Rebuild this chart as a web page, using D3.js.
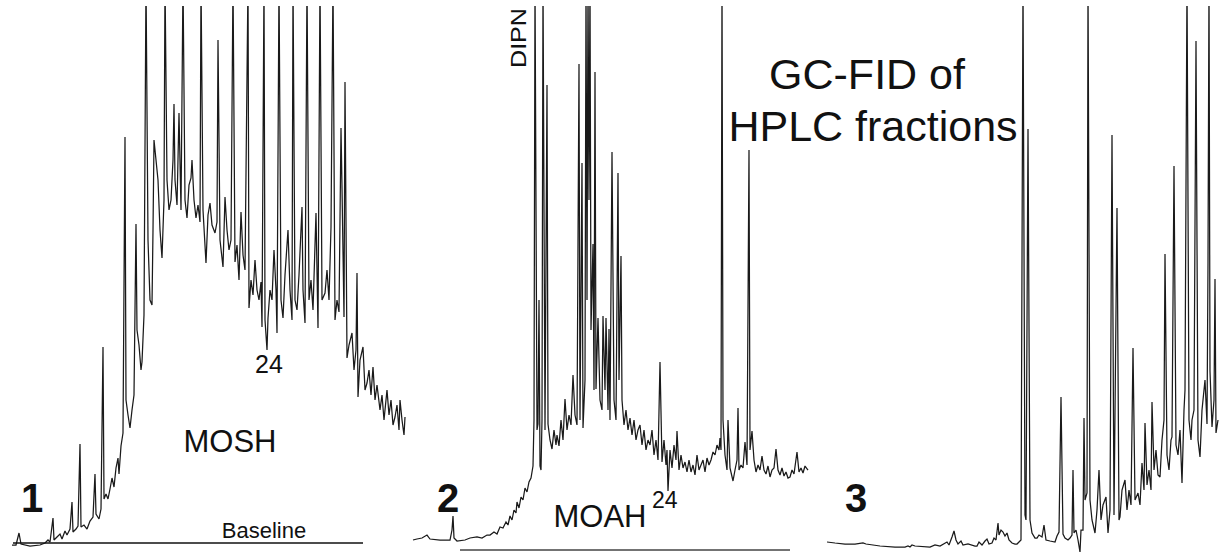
<!DOCTYPE html>
<html>
<head>
<meta charset="utf-8">
<script src="https://cdn.jsdelivr.net/npm/d3@7"></script>
<style>
  body { margin: 0; background: #fff; }
  svg { display: block; font-family: "Liberation Sans", Arial, sans-serif; }
</style>
</head>
<body>
<div id="chart"></div>
<script>
// Traces: [scan index, detector response]
const traceMOSH = [
  [12,0],[16,0],[19,12],[21,1],[30,-1],[40,0],[45,2],[48,5],[50,3],[53,27],[54,5],[57,8],[60,11],[62,6],
  [65,14],[67,10],[70,16],[72,43],[73,13],[76,16],[78,19],[80,101],[81,18],[84,20],[87,16],[90,24],[93,28],
  [95,71],[96,31],[99,26],[101,36],[103,198],[104,46],[106,51],[108,46],[110,56],[112,67],[114,58],[116,77],
  [118,87],[119,71],[121,99],[123,112],[125,408],[126,145],[128,130],[130,117],[132,135],[134,150],[136,321],
  [137,215],[139,200],[141,175],[142,183],[144,230],[146,565],[148,305],[150,245],[152,240],[153,315],[154,405],
  [156,385],[158,365],[160,315],[162,287],[164,345],[165,565],[167,365],[169,335],[171,345],[173,385],[174,441],
  [175,365],[177,340],[179,432],[181,335],[183,565],[185,345],[187,327],[189,360],[191,367],[192,385],[194,345],
  [196,327],[198,340],[200,323],[201,565],[203,335],[206,282],[208,330],[210,342],[212,320],[215,312],[217,323],
  [218,505],[220,305],[223,278],[225,348],[227,315],[229,295],[231,305],[233,565],[235,283],[237,300],[239,265],
  [241,333],[243,290],[245,275],[248,565],[249,237],[251,265],[253,250],[255,285],[257,255],[259,245],[261,263],
  [262,218],[264,565],[265,225],[267,195],[268,227],[270,255],[272,245],[274,295],[276,255],[277,212],[279,565],
  [281,245],[283,227],[285,270],[288,315],[290,255],[292,225],[293,565],[295,245],[297,235],[299,270],[302,338],
  [303,255],[305,222],[307,565],[309,245],[311,265],[313,235],[316,332],[318,217],[320,565],[322,245],[325,252],
  [327,275],[329,245],[331,318],[333,565],[335,225],[337,245],[339,233],[341,417],[342,358],[344,228],[345,463],
  [347,187],[349,200],[352,212],[354,175],[356,195],[357,272],[358,148],[360,185],[363,198],[365,155],[367,162],
  [369,175],[371,150],[373,178],[375,145],[377,160],[380,135],[382,150],[384,125],[387,155],[389,130],[391,145],
  [393,120],[395,128],[397,140],[399,115],[400,145],[402,125],[404,110],[405,128]
];

const traceMOAH = [
  [3,5],[7,6],[12,7],[17,10],[20,6],[30,5],[40,5],[42,15],[43,29],[44,7],[47,4],[55,5],[60,7],[67,8],[72,7],
  [77,10],[80,10],[84,13],[87,11],[90,18],[93,17],[96,23],[98,20],[100,29],[102,25],[104,35],[106,32],[107,43],
  [109,37],[111,48],[113,45],[115,57],[117,53],[119,63],[121,67],[123,79],[124,125],[125,565],[127,115],[128,121],
  [129,245],[130,79],[131,75],[132,125],[133,565],[135,115],[137,460],[138,121],[140,105],[142,96],[144,115],
  [146,100],[147,110],[149,99],[151,125],[153,105],[155,146],[157,115],[159,130],[161,120],[163,170],[165,130],
  [167,120],[169,481],[170,125],[172,382],[173,117],[175,165],[176,565],[177,245],[178,565],[179,345],[180,565],
  [181,215],[183,301],[184,155],[185,473],[186,156],[188,227],[190,145],[192,135],[193,229],[195,155],[196,227],
  [198,135],[199,216],[200,125],[202,393],[204,145],[206,125],[208,372],[209,165],[211,289],[212,145],[214,120],
  [216,135],[218,115],[220,127],[222,110],[224,125],[226,105],[228,115],[230,120],[232,100],[234,115],[236,95],
  [238,105],[240,100],[242,115],[244,90],[246,105],[248,85],[250,183],[252,83],[254,105],[256,80],[257,95],
  [258,54],[260,95],[262,77],[264,100],[266,85],[267,114],[269,75],[271,90],[273,77],[275,83],[277,73],[279,85],
  [281,73],[283,80],[285,70],[287,90],[289,75],[291,80],[293,85],[295,73],[297,87],[299,80],[301,85],[303,93],
  [305,90],[307,100],[309,95],[310,107],[311,95],[312,565],[313,125],[315,90],[317,75],[318,125],[320,77],
  [323,64],[325,75],[327,85],[328,137],[329,75],[331,80],[333,77],[335,103],[337,80],[339,395],[340,95],
  [342,114],[344,85],[346,73],[348,80],[350,75],[352,89],[354,75],[356,71],[358,79],[360,68],[362,75],[364,77],
  [366,96],[368,75],[370,70],[372,77],[374,69],[376,73],[378,67],[380,68],[382,75],[384,71],[387,93],[389,73],
  [391,77],[393,72],[395,79],[398,75]
];

const traceFraction3 = [
  [17,3],[25,2],[35,1],[45,1],[53,2],[56,1],[70,-1],[85,-2],[95,-2],[98,-1],[100,-2],[102,0],[105,-1],[120,-2],
  [125,0],[130,-1],[137,3],[139,0],[142,8],[144,14],[146,5],[148,1],[151,4],[153,0],[158,1],[165,-1],[167,-1],
  [169,3],[172,0],[175,4],[177,6],[179,1],[182,2],[184,7],[186,5],[188,22],[189,10],[191,15],[193,13],[195,9],
  [197,12],[199,5],[202,2],[205,1],[207,1],[209,3],[211,5],[213,565],[215,30],[216,25],[218,416],[220,25],
  [222,12],[225,7],[227,7],[229,10],[232,8],[234,20],[236,5],[240,4],[245,3],[247,9],[249,13],[251,148],
  [253,11],[255,7],[258,5],[260,7],[262,10],[263,75],[264,12],[266,15],[268,5],[270,-7],[271,15],[273,15],
  [274,127],[275,45],[277,52],[278,565],[280,45],[282,25],[285,12],[287,35],[289,75],[291,25],[293,40],[296,48],
  [298,12],[300,35],[302,410],[304,30],[307,337],[309,25],[310,28],[312,55],[315,65],[317,35],[319,55],[321,40],
  [323,197],[325,45],[328,52],[330,40],[332,82],[334,55],[335,122],[337,60],[339,75],[341,55],[342,143],[344,75],
  [346,95],[348,70],[350,68],[352,105],[354,125],[355,291],[357,90],[359,75],[361,105],[362,108],[364,379],
  [366,100],[368,90],[370,115],[372,62],[374,135],[375,155],[377,565],[379,125],[381,105],[382,125],[384,135],
  [386,504],[388,105],[390,88],[392,135],[393,145],[395,165],[397,121],[398,282],[399,565],[400,174],[402,118],
  [404,145],[405,266],[406,112],[408,125]
];

// Reference baselines: [start scan, end scan, response]
const baselineMOSH = [13, 363, 2];
const baselineMOAH = [50, 380, -5];

const panelNames = ["1", "2", "3"];
const titleLines = ["GC-FID of", "HPLC fractions"];


/*******************************/
/*    Declare the constants    */
/*******************************/
const width = 1220;
const height = 552;
const panelWidth = 410;
const panelStarts = [0, 410, 810];
const traceColor = "#1a1a1a";

const svg = d3.select("#chart")
  .append("svg")
    .attr("width", width)
    .attr("height", height)
    .attr("viewBox", `0 0 ${width} ${height}`);

// shared response scale, tall peaks run off the top
const yScale = d3.scaleLinear()
  .domain([0, 540])
  .range([545, 5]);

const xScales = panelStarts.map(x0 => d3.scaleLinear()
  .domain([0, panelWidth])
  .range([x0, x0 + panelWidth]));

svg.append("defs")
  .append("clipPath")
    .attr("id", "clip")
  .append("rect")
    .attr("x", 0)
    .attr("y", 6)
    .attr("width", width)
    .attr("height", height - 6);


/*******************************/
/*    Draw the traces          */
/*******************************/
const traces = [traceMOSH, traceMOAH, traceFraction3];

traces.forEach((trace, i) => {
  const line = d3.line()
    .x(d => xScales[i](d[0]))
    .y(d => yScale(d[1]));

  svg
    .append("path")
      .datum(trace)
      .attr("clip-path", "url(#clip)")
      .attr("d", line)
      .attr("fill", "none")
      .attr("stroke", traceColor)
      .attr("stroke-width", 1.25)
      .attr("stroke-linejoin", "miter")
      .attr("stroke-miterlimit", 2);
});

//Baselines under panel 1 and 2
[[baselineMOSH, 0, "#111", 1.3], [baselineMOAH, 1, "#444", 1.6]].forEach(([b, i, col, sw]) => {
  svg
    .append("line")
      .attr("x1", xScales[i](b[0]))
      .attr("x2", xScales[i](b[1]))
      .attr("y1", yScale(b[2]))
      .attr("y2", yScale(b[2]))
      .attr("stroke", col)
      .attr("stroke-width", sw);
});


/*******************************/
/*    Labels                   */
/*******************************/
//Panel numbers
const numberX = [21, 437, 845];
panelNames.forEach((name, i) => {
  svg
    .append("text")
      .text(name)
      .attr("x", numberX[i])
      .attr("y", 512)
      .attr("font-size", 40)
      .attr("font-weight", "bold")
      .attr("fill", "#111");
});

svg.append("text")
  .text("MOSH")
  .attr("x", 230)
  .attr("y", 452)
  .attr("text-anchor", "middle")
  .attr("font-size", 31)
  .attr("fill", "#111");

svg.append("text")
  .text("Baseline")
  .attr("x", 264)
  .attr("y", 538)
  .attr("text-anchor", "middle")
  .attr("font-size", 22)
  .attr("fill", "#111");

svg.append("text")
  .text("24")
  .attr("x", 269)
  .attr("y", 373)
  .attr("text-anchor", "middle")
  .attr("font-size", 25)
  .attr("fill", "#111");

svg.append("text")
  .text("MOAH")
  .attr("x", 600)
  .attr("y", 527)
  .attr("text-anchor", "middle")
  .attr("font-size", 31)
  .attr("fill", "#111");

svg.append("text")
  .text("24")
  .attr("x", 652)
  .attr("y", 508)
  .attr("font-size", 23)
  .attr("fill", "#111");

svg.append("text")
  .text("DIPN")
  .attr("transform", "translate(526, 68) rotate(-90)")
  .attr("font-size", 22)
  .attr("textLength", 60)
  .attr("lengthAdjust", "spacingAndGlyphs")
  .attr("fill", "#111");

//Title
const titleX = [867, 873];
const titleY = [89, 141];
titleLines.forEach((t, i) => {
  svg
    .append("text")
      .text(t)
      .attr("x", titleX[i])
      .attr("y", titleY[i])
      .attr("text-anchor", "middle")
      .attr("font-size", 43)
      .attr("fill", "#111");
});
</script>
</body>
</html>
